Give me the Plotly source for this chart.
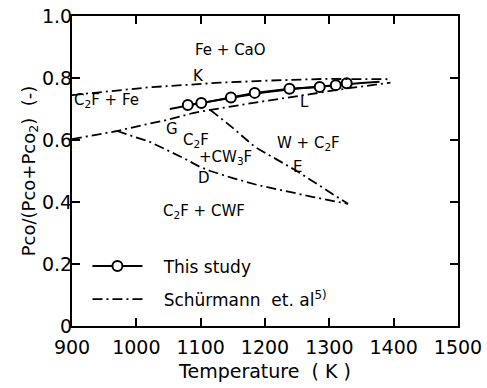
import plotly.graph_objects as go

# ---- data ----
study_T = [1080, 1101, 1147, 1184, 1238, 1285, 1310, 1327]
study_R = [0.713, 0.719, 0.737, 0.752, 0.765, 0.771, 0.777, 0.783]

fit_T = [1052, 1080, 1100, 1150, 1200, 1250, 1300, 1350, 1378]
fit_R = [0.700, 0.712, 0.719, 0.737, 0.754, 0.766, 0.776, 0.784, 0.788]

K_T = [900, 960, 1020, 1080, 1130, 1210, 1290, 1395]
K_R = [0.745, 0.758, 0.770, 0.778, 0.785, 0.792, 0.797, 0.796]

L_T = [900, 943, 970, 1010, 1048, 1088, 1115, 1192, 1260, 1330, 1395]
L_R = [0.603, 0.619, 0.629, 0.648, 0.665, 0.687, 0.697, 0.723, 0.745, 0.767, 0.785]

D_T = [970, 1021, 1073, 1099, 1115, 1150, 1188, 1223, 1275, 1329]
D_R = [0.629, 0.594, 0.542, 0.513, 0.500, 0.477, 0.455, 0.439, 0.416, 0.394]

E_T = [1115, 1150, 1184, 1247, 1329]
E_R = [0.697, 0.639, 0.578, 0.503, 0.394]

x_ticks = [900, 1000, 1100, 1200, 1300, 1400, 1500]
y_ticks = [0, 0.2, 0.4, 0.6, 0.8, 1.0]
y_ticktext = ["0", "0.2", "0.4", "0.6", "0.8", "1.0"]

labels_text = ["Fe + CaO", "K", "C<sub>2</sub>F + Fe", "G", "C<sub>2</sub>F",
               "+CW<sub>3</sub>F", "D", "E", "W + C<sub>2</sub>F", "L", "C<sub>2</sub>F + CWF"]
labels_T = [1147, 1097, 953, 1055, 1093, 1139, 1105, 1251, 1267, 1262, 1105]
labels_R = [0.89, 0.806, 0.726, 0.637, 0.60, 0.542, 0.477, 0.513, 0.59, 0.721, 0.368]

FONT = "DejaVu Sans"
DASH = "10px,4px,2px,4px"
NB = "\u00a0"

fig = go.Figure()

fig.add_trace(go.Scatter(x=fit_T, y=fit_R, mode="lines",
                         line=dict(color="black", width=2), showlegend=False,
                         hoverinfo="skip", legendgroup="a"))
fig.add_trace(go.Scatter(x=study_T, y=study_R, mode="lines+markers", name=NB * 3 + "This study",
                         line=dict(color="black", width=2),
                         marker=dict(symbol="circle", size=10, color="white",
                                     line=dict(color="black", width=2)),
                         legendgroup="a"))

first = True
for tx, ry in [(K_T, K_R), (L_T, L_R), (D_T, D_R), (E_T, E_R)]:
    fig.add_trace(go.Scatter(x=tx, y=ry, mode="lines",
                             name=NB * 3 + "Schürmann  et. al<sup>5)</sup>",
                             line=dict(color="black", width=1.8, dash=DASH),
                             showlegend=first, legendgroup="b"))
    first = False

for t, x, y in zip(labels_text, labels_T, labels_R):
    fig.add_annotation(x=x, y=y, text=t, showarrow=False,
                       font=dict(family=FONT, size=15, color="black"))

axis_common = dict(showline=True, linecolor="black", linewidth=2, mirror="ticks",
                   ticks="inside", ticklen=8, tickwidth=2, tickcolor="black",
                   showgrid=False, zeroline=False, automargin=False,
                   tickfont=dict(family=FONT, size=19, color="black"))

fig.update_xaxes(range=[900, 1500], tickvals=x_ticks, ticklabelstandoff=3, **axis_common,
                 title=dict(text=NB * 4 + "Temperature  ( K )",
                            font=dict(family=FONT, size=19, color="black"), standoff=8))
fig.update_yaxes(range=[0, 1.0], tickvals=y_ticks, ticktext=y_ticktext, ticklabelstandoff=-6,
                 **axis_common,
                 title=dict(text="Pco/(Pco+Pco<sub>2</sub>)  (-)", font=dict(family=FONT, size=18, color="black"),
                            standoff=2))

fig.update_layout(
    width=487, height=388,
    margin=dict(l=72, r=29, t=16, b=62),
    paper_bgcolor="white", plot_bgcolor="white",
    font=dict(family=FONT, color="black"),
    legend=dict(x=0.04, y=0.25, xanchor="left", yanchor="top",
                bgcolor="rgba(0,0,0,0)", traceorder="grouped", tracegroupgap=8,
                font=dict(family=FONT, size=17, color="black"), itemwidth=50),
)

fig.write_html("out.html")
